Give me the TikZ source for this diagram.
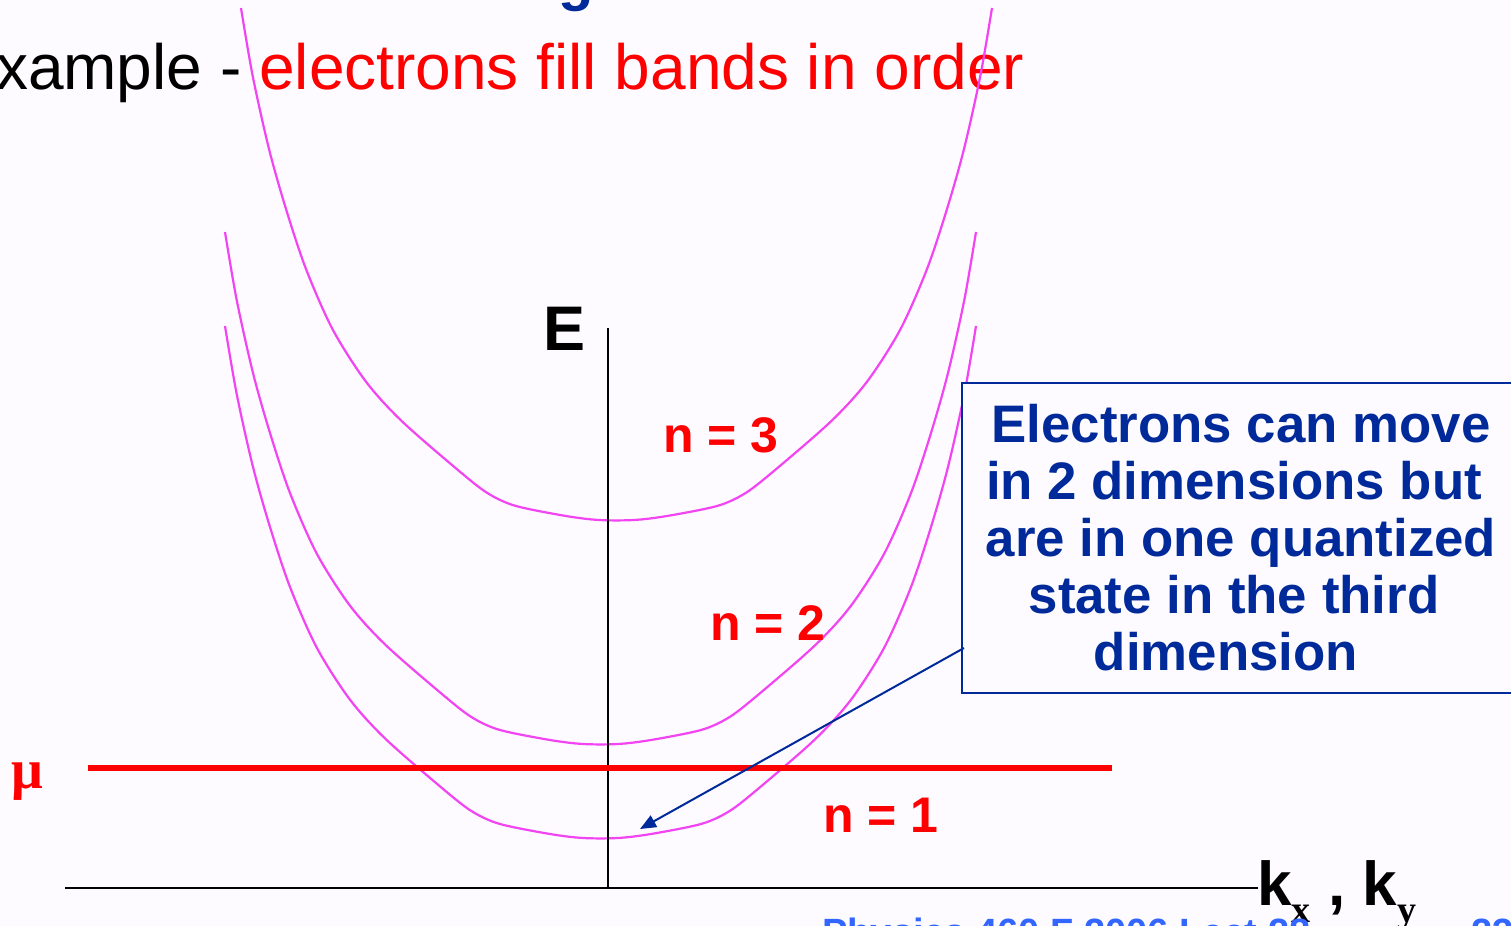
\documentclass[tikz,border=0pt]{standalone}
\usepackage{fontspec}
\setmainfont{Liberation Sans}
\newfontfamily\serifface{Liberation Serif}
\usetikzlibrary{arrows.meta}
\definecolor{bg}{RGB}{253,251,255}
\definecolor{bandpink}{RGB}{242,68,242}
\definecolor{boxblue}{RGB}{0,41,153}
\definecolor{footblue}{RGB}{51,102,255}
\newcommand{\ksub}[1]{\raisebox{-8.5pt}{\serifface\bfseries\fontsize{19}{21}\selectfont #1}}
\tikzset{
  bandline/.style={draw=bandpink, line width=1.1pt},
  band/.pic={\draw[bandline] plot[smooth, tension=0.5] coordinates {
    (-375.5,-512) (-363.8,-444) (-347.5,-371) (-330.5,-311) (-310.5,-251)
    (-283.8,-190.5) (-250.5,-138.3) (-213.8,-98) (-153.8,-46) (-127.5,-26)
    (-100.5,-14) (-50.5,-4) (-17.5,0) (17.5,0) (50.5,-4) (100.5,-14)
    (127.5,-26) (153.8,-46) (213.8,-98) (250.5,-138.3) (283.8,-190.5)
    (310.5,-251) (330.5,-311) (347.5,-371) (363.8,-444) (375.5,-512)};},
  axisline/.style={draw=black, line width=1.3pt},
  nlabel/.style={text=red, font=\bfseries\fontsize{25}{30}\selectfont, inner sep=0, anchor=base west},
  axislabel/.style={text=black, font=\bfseries\fontsize{31.5}{36}\selectfont, inner sep=0, anchor=base west},
  infobox/.style={draw=boxblue, line width=1.3pt, fill=bg, text=boxblue, align=center,
    minimum width=279pt, minimum height=155pt, inner sep=0,
    font=\bfseries\fontsize{26.4}{28.5}\selectfont},
  pointer/.style={draw=boxblue, line width=1pt, -{Triangle[length=8pt,width=6.5pt]}},
  footer/.style={text=footblue, font=\bfseries\fontsize{19}{22}\selectfont, inner sep=0, anchor=base west},
}
\begin{document}
\begin{tikzpicture}[x=0.5pt,y=-0.5pt]
\clip (0,0) rectangle (1511,926);
\fill[bg] (0,0) rectangle (1511,926);
% partial title and subtitle
\node[text=boxblue, font=\bfseries\fontsize{29}{34}\selectfont, inner sep=0, anchor=base west] (titleg) at (558,-1) {g};
\node[font=\fontsize{32}{38}\selectfont, inner sep=0, anchor=base west] (subtitle) at (-47,90)
  {Example - \textcolor{red}{electrons fill bands in order}};
% bands
\pic at (616.5,520) {band};
\pic at (600.5,744) {band};
\pic at (600.5,838) {band};
% axes
\node[axislabel] (Elabel) at (543,350) {E};
\node[axislabel, font=\bfseries\fontsize{31}{36}\selectfont] (klabel) at (1257,905) {k\ksub{x} , k\ksub{y}};
\coordinate (origin) at (608,888);
\coordinate (ytop) at (608,328);
\coordinate (xleft) at (65,888);
\coordinate (xright) at (1258,888);
\draw[axisline] (origin) -- (ytop);
\draw[axisline] (xleft) -- (xright);
% chemical potential
\coordinate (muleft) at (88,768);
\coordinate (muright) at (1112,768);
\draw[red, line width=2.6pt] (muleft) -- (muright);
\node[text=red, font=\serifface\bfseries\fontsize{28}{32}\selectfont, inner sep=0, anchor=base west] (mu) at (11,788) {μ};
% band labels
\node[nlabel] (n3) at (663,452) {n = 3};
\node[nlabel] (n2) at (710,640) {n = 2};
\node[nlabel] (n1) at (823,832) {n = 1};
% info box
\node[infobox] (info) at (1241,538) {Electrons can move\\in 2 dimensions but\kern7pt\\are in one quantized\\state in the third\kern7pt\\dimension\kern15pt};
\coordinate (astart) at (964,648);
\coordinate (atip) at (640,829);
\draw[pointer] (astart) -- (atip);
% footer
\node[footer] (foot) at (822,945) {Physics 460 F 2006 Lect 28};
\node[footer] (page) at (1471,945) {23};
\end{tikzpicture}
\end{document}
